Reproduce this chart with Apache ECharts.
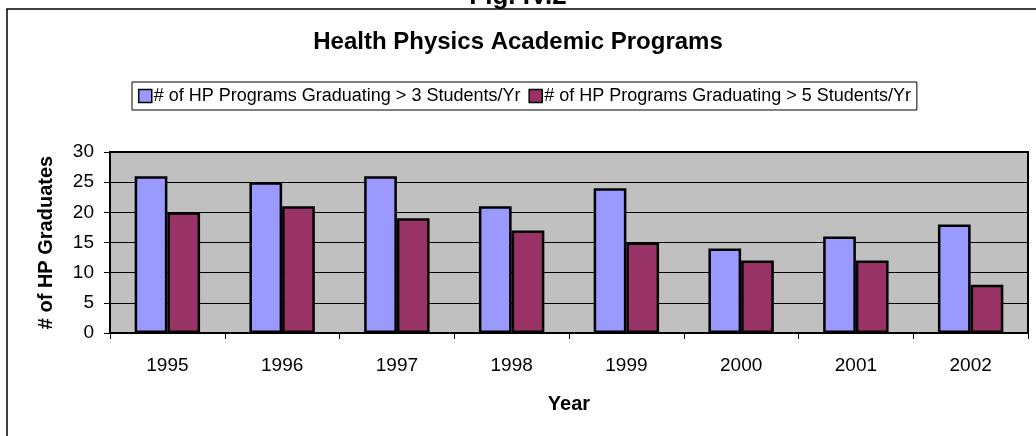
<!DOCTYPE html>
<html>
<head>
<meta charset="utf-8">
<script src="https://cdn.jsdelivr.net/npm/echarts@6/dist/echarts.min.js"></script>
<style>
  html, body { margin: 0; padding: 0; background: #fff; }
  #chart { width: 1036px; height: 436px; }
</style>
</head>
<body>
<div id="chart"></div>
<script>
const years = ['1995', '1996', '1997', '1998', '1999', '2000', '2001', '2002']
const over3 = [26, 25, 26, 21, 24, 14, 16, 18]
const over5 = [20, 21, 19, 17, 15, 12, 12, 8]
const seriesNames = [
  '# of HP Programs Graduating > 3 Students/Yr',
  '# of HP Programs Graduating > 5 Students/Yr'
]
const FONT = '"Liberation Sans", Arial, sans-serif'

const getBaseSerie = color => {
  return {
    type: 'bar',
    barGap: '0%',
    barCategoryGap: '43%',
    itemStyle: {
      color: color,
      borderColor: '#000',
      borderWidth: 2.5
    }
  }
}

const chart = echarts.init(document.getElementById('chart'))
chart.setOption({
  animation: false,
  textStyle: { fontFamily: FONT, color: '#000' },
  title: [
    {
      text: 'Fig. IV.2',
      left: 'center',
      top: -16,
      padding: 0,
      textStyle: { fontSize: 26, fontWeight: 'bold', fontFamily: FONT, color: '#000' }
    },
    {
      text: 'Health Physics Academic Programs',
      left: 'center',
      top: 30,
      padding: 0,
      textStyle: { fontSize: 24, fontWeight: 'bold', fontFamily: FONT, color: '#000' }
    }
  ],
  graphic: [
    {
      type: 'rect',
      z: -1,
      shape: { x: 7, y: 9, width: 1100, height: 500 },
      style: { fill: 'none', stroke: '#000', lineWidth: 1.5 }
    }
  ],
  legend: {
    left: 132,
    top: 82,
    data: seriesNames,
    orient: 'horizontal',
    backgroundColor: '#fff',
    borderColor: '#000',
    borderWidth: 1,
    padding: [5, 6, 5, 6],
    itemGap: 8,
    itemWidth: 13,
    itemHeight: 13,
    icon: 'rect',
    itemStyle: { borderColor: '#000', borderWidth: 1.5 },
    textStyle: { fontSize: 18, fontFamily: FONT, color: '#000', padding: [0, 0, 0, -3] }
  },
  grid: {
    show: true,
    left: 110,
    right: 8,
    top: 152,
    bottom: 103,
    backgroundColor: '#C0C0C0',
    borderColor: '#000',
    borderWidth: 2
  },
  xAxis: {
    type: 'category',
    data: years,
    name: 'Year',
    nameLocation: 'middle',
    nameGap: 61,
    nameTextStyle: { fontSize: 20, fontWeight: 'bold', fontFamily: FONT, color: '#000' },
    axisLine: { lineStyle: { color: '#000', width: 2 } },
    axisTick: { show: true, length: 6, lineStyle: { color: '#000', width: 1 } },
    axisLabel: { fontSize: 19, color: '#000', fontFamily: FONT, margin: 23 }
  },
  yAxis: {
    type: 'value',
    min: 0,
    max: 30,
    interval: 5,
    name: '# of HP Graduates',
    nameLocation: 'middle',
    nameGap: 54,
    nameTextStyle: { fontSize: 20, fontWeight: 'bold', fontFamily: FONT, color: '#000' },
    axisLine: { show: true, lineStyle: { color: '#000', width: 2 } },
    axisTick: { show: true, length: 6, lineStyle: { color: '#000', width: 1 } },
    axisLabel: { fontSize: 19, color: '#000', fontFamily: FONT, margin: 16 },
    splitLine: { lineStyle: { color: '#000', width: 1 } }
  },
  series: [
    Object.assign(getBaseSerie('#9999FF'), { name: seriesNames[0], data: over3 }),
    Object.assign(getBaseSerie('#993366'), { name: seriesNames[1], data: over5 })
  ]
})
</script>
</body>
</html>
